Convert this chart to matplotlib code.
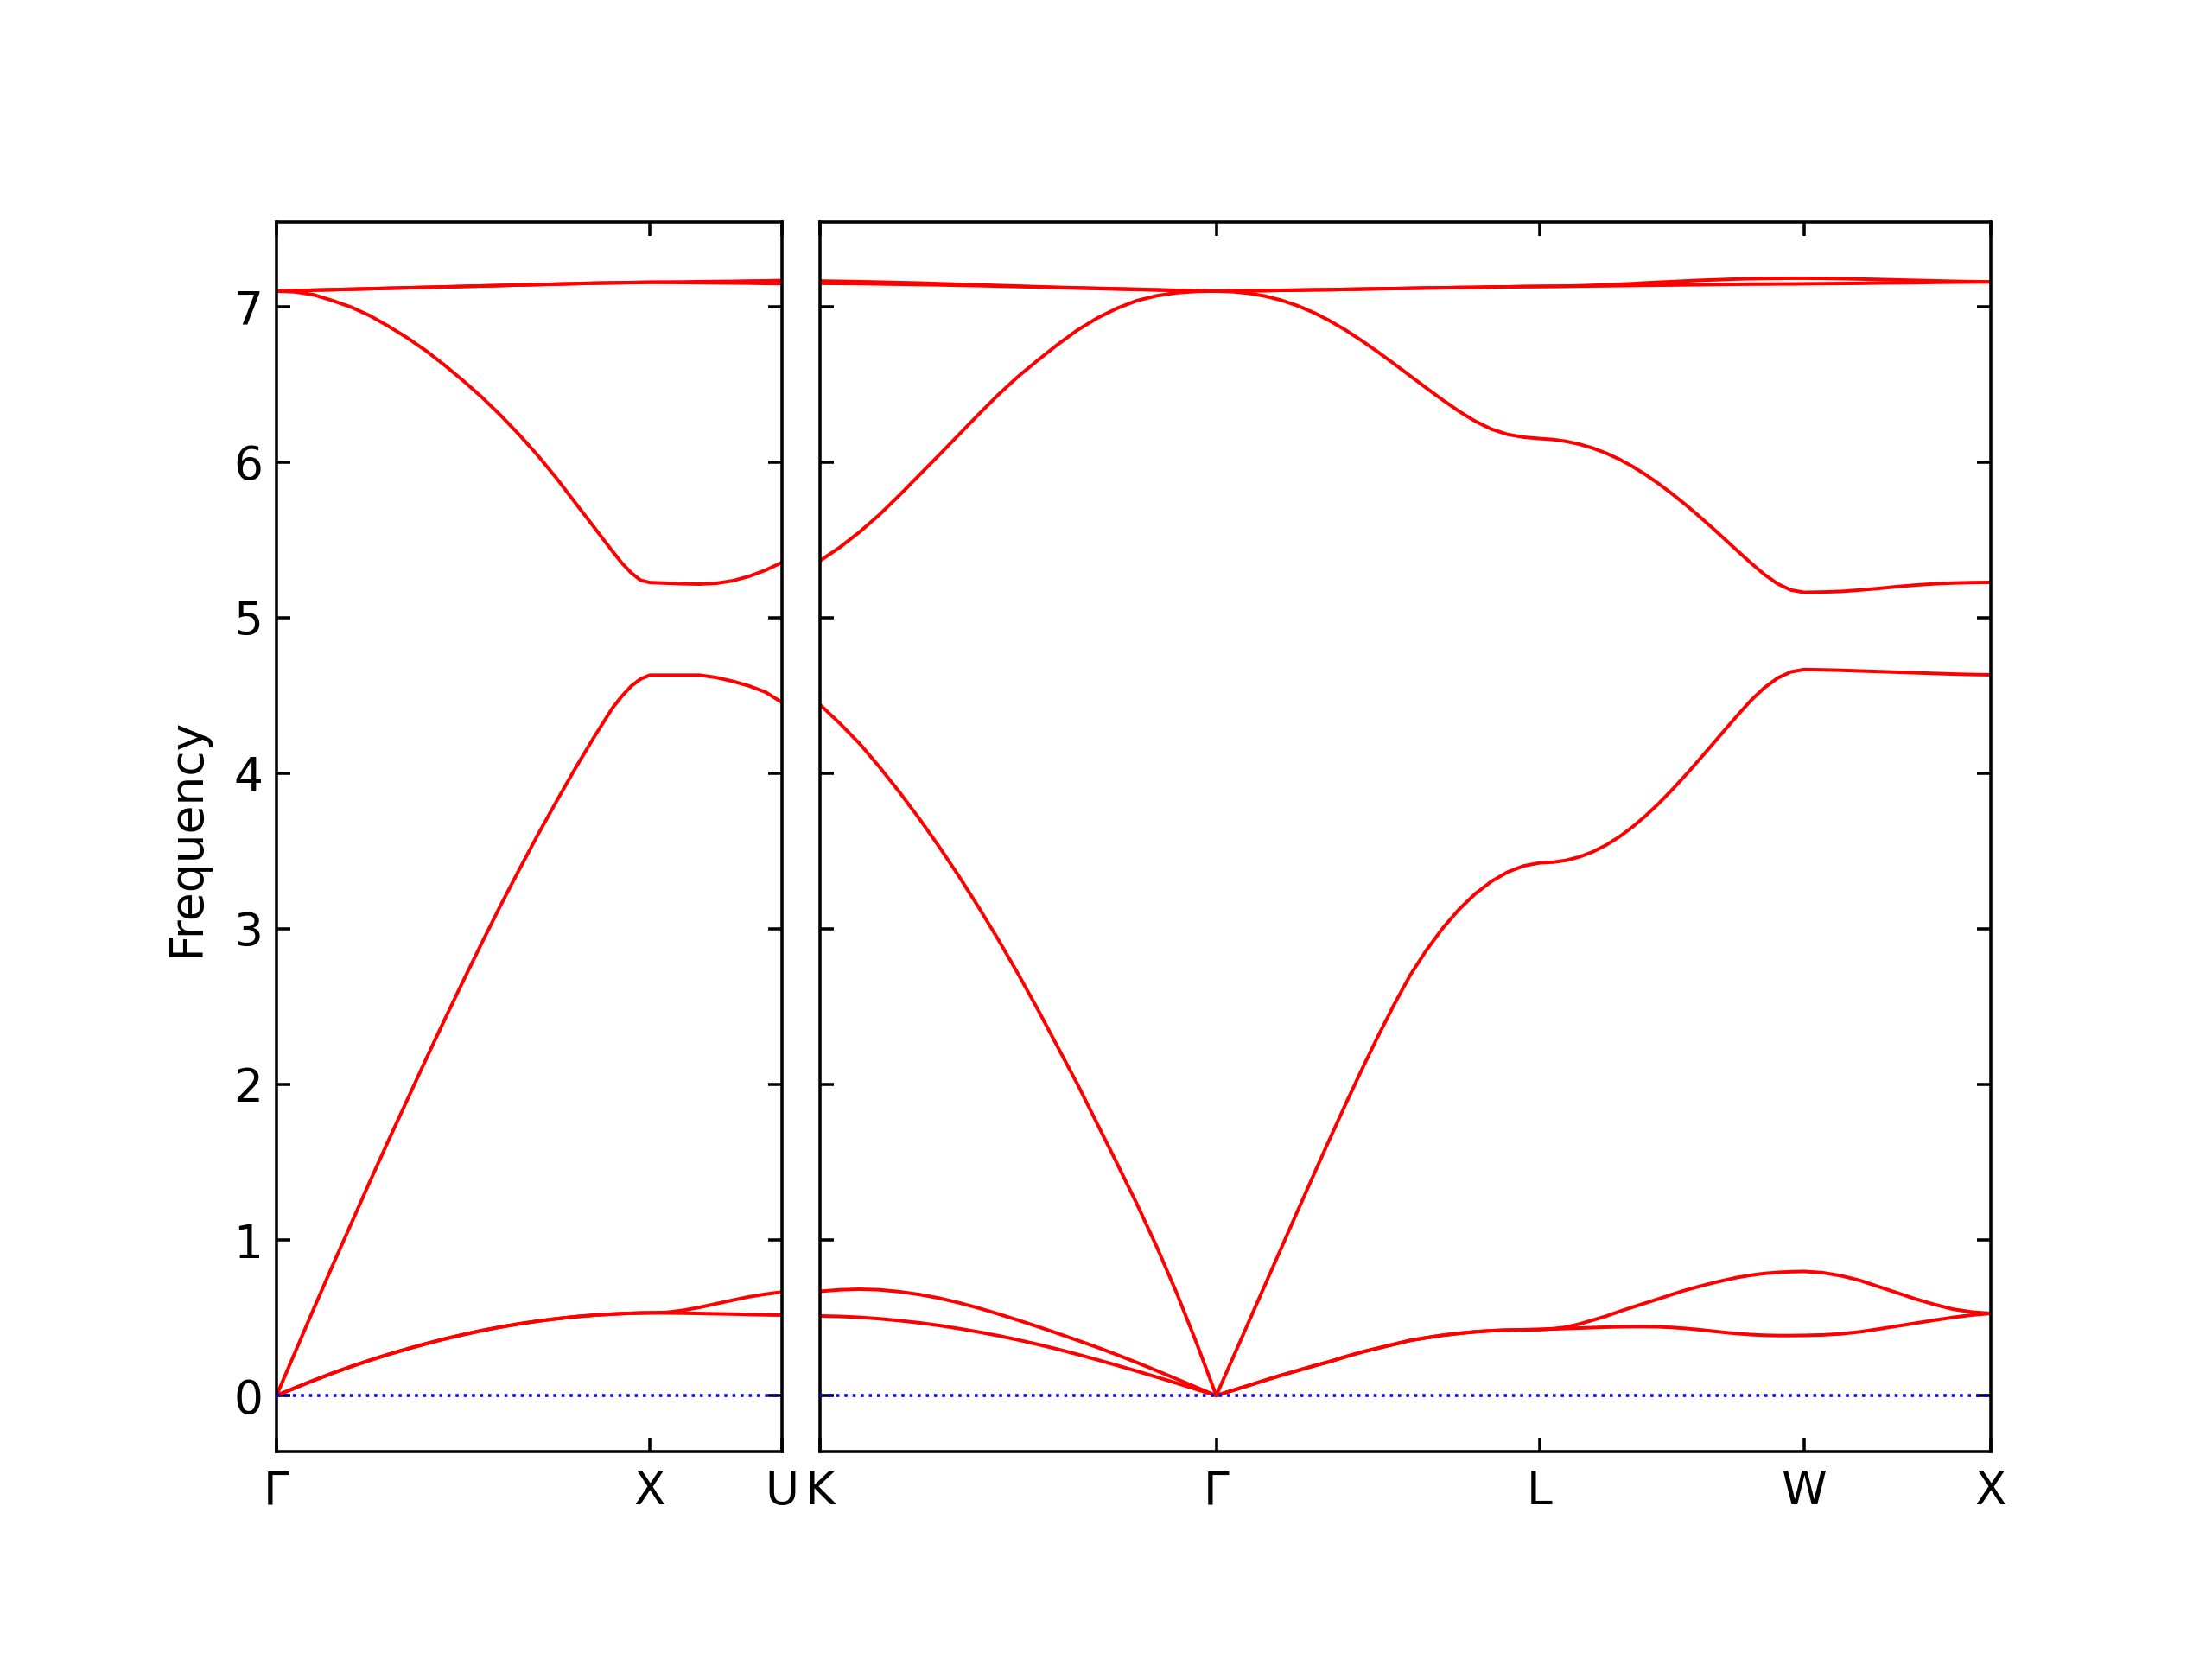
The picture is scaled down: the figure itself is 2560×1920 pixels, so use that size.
"""
Phonon band structure, fcc path Gamma-X-U | K-Gamma-L-W-X
Values read off the reference picture.
"""

import numpy as np
import matplotlib.pyplot as plt

plt.rcParams['font.size'] = 12

# ============================================================================
# DATA  (band order per segment: TA1, TA2, LA, LO, TO1, TO2)
# ============================================================================

# segment lengths along the path (units of 2pi/a)
LEN_GX = 1.0
LEN_XU = 0.35355
LEN_KG = 1.06066
LEN_GL = 0.86603
LEN_LW = 0.70711
LEN_WX = 0.5

labels_left = ['Γ', 'X', 'U']
labels_right = ['K', 'Γ', 'L', 'W', 'X']

# --- Gamma -> X
gx_t = [0, .05, .1, .15, .2, .25, .3, .35, .4, .45, .5, .55, .6, .65, .7,
        .75, .8, .85, .9, .925, .95, .975, 1]
gx_ta = [0, .05, .098, .144, .187, .227, .265, .300, .333, .364, .392, .418,
         .441, .461, .479, .494, .507, .517, .524, .527, .529, .531, .532]
gx_la = [0, .28, .56, .835, 1.105, 1.375, 1.64, 1.90, 2.16, 2.415, 2.665,
         2.91, 3.15, 3.38, 3.605, 3.82, 4.03, 4.23, 4.42, 4.495, 4.56, 4.605,
         4.63]
gx_lo = [7.098, 7.093, 7.074, 7.037, 6.995, 6.94, 6.872, 6.798, 6.715, 6.622,
         6.522, 6.416, 6.30, 6.175, 6.041, 5.895, 5.738, 5.582, 5.425, 5.35,
         5.287, 5.24, 5.225]
gx_to = [7.098, 7.101, 7.104, 7.107, 7.110, 7.113, 7.116, 7.119, 7.122,
         7.125, 7.128, 7.131, 7.134, 7.137, 7.140, 7.143, 7.146, 7.149,
         7.151, 7.152, 7.153, 7.154, 7.155]
gx_bands = [gx_ta, gx_ta, gx_la, gx_lo, gx_to, gx_to]

# --- X -> U
xu_t = [0, .125, .25, .375, .5, .625, .75, .875, 1]
xu_ta1 = [.532, .531, .530, .528, .526, .524, .521, .519, .517]
xu_ta2 = [.532, .535, .548, .567, .590, .613, .635, .652, .666]
xu_la = [4.63, 4.63, 4.63, 4.63, 4.615, 4.591, 4.561, 4.521, 4.455]
xu_lo = [5.225, 5.221, 5.217, 5.215, 5.220, 5.236, 5.265, 5.304, 5.354]
xu_to1 = [7.155, 7.154, 7.153, 7.152, 7.151, 7.150, 7.149, 7.147, 7.146]
xu_to2 = [7.155, 7.156, 7.157, 7.159, 7.160, 7.161, 7.163, 7.164, 7.166]
xu_bands = [xu_ta1, xu_ta2, xu_la, xu_lo, xu_to1, xu_to2]

# --- K -> Gamma
kg_t = [0, .05, .1, .15, .2, .25, .3, .35, .4, .45, .5, .55, .6, .65, .7,
        .75, .8, .85, .9, .95, 1]
kg_ta1 = [.512, .509, .503, .494, .482, .468, .451, .431, .409, .385, .358,
          .329, .298, .265, .230, .194, .157, .119, .080, .040, 0]
kg_ta2 = [.670, .680, .684, .680, .668, .650, .627, .597, .563, .525, .485,
          .443, .400, .355, .310, .262, .212, .160, .107, .053, 0]
kg_la = [4.44, 4.32, 4.19, 4.04, 3.88, 3.71, 3.53, 3.34, 3.14, 2.93, 2.71,
         2.48, 2.24, 2.0, 1.745, 1.49, 1.23, 0.955, 0.66, 0.34, 0]
kg_lo = [5.365, 5.451, 5.55, 5.661, 5.785, 5.914, 6.043, 6.174, 6.305, 6.432,
         6.549, 6.654, 6.755, 6.848, 6.925, 6.988, 7.037, 7.068, 7.087,
         7.096, 7.098]
kg_to1 = [7.148, 7.147, 7.146, 7.144, 7.142, 7.140, 7.138, 7.135, 7.133,
          7.130, 7.127, 7.124, 7.120, 7.117, 7.114, 7.111, 7.108, 7.105,
          7.102, 7.099, 7.098]
kg_to2 = [7.163, 7.161, 7.159, 7.156, 7.153, 7.150, 7.146, 7.142, 7.138,
          7.134, 7.130, 7.126, 7.122, 7.119, 7.116, 7.113, 7.110, 7.106,
          7.103, 7.100, 7.098]
kg_bands = [kg_ta1, kg_ta2, kg_la, kg_lo, kg_to1, kg_to2]

# --- Gamma -> L
gl_t = kg_t
gl_ta = [0, .033, .065, .098, .13, .16, .19, .218, .25, .28, .305, .33, .355,
         .372, .388, .40, .41, .417, .421, .423, .425]
gl_la = [0, .236, .472, .708, .944, 1.18, 1.414, 1.646, 1.874, 2.096, 2.31,
         2.514, 2.704, 2.864, 3.004, 3.124, 3.224, 3.304, 3.364, 3.404, 3.424]
gl_lo = [7.098, 7.094, 7.084, 7.066, 7.04, 7.005, 6.961, 6.908, 6.847, 6.779,
         6.706, 6.63, 6.552, 6.474, 6.398, 6.326, 6.262, 6.211, 6.177, 6.159,
         6.15]
gl_to = [7.098, 7.099, 7.100, 7.101, 7.103, 7.104, 7.106, 7.107, 7.109,
         7.111, 7.113, 7.114, 7.116, 7.118, 7.119, 7.121, 7.122, 7.124,
         7.125, 7.127, 7.128]
gl_bands = [gl_ta, gl_ta, gl_la, gl_lo, gl_to, gl_to]

# --- L -> W
lw_t = kg_t
lw_ta1 = [.425, .428, .431, .434, .437, .440, .442, .443, .443, .442, .438,
          .432, .424, .415, .406, .398, .392, .388, .386, .386, .387]
lw_ta2 = [.425, .430, .440, .460, .485, .510, .540, .568, .595, .622, .650,
          .677, .700, .722, .742, .760, .774, .785, .792, .796, .798]
lw_la = [3.424, 3.428, 3.44, 3.462, 3.494, 3.537, 3.59, 3.653, 3.725, 3.805,
         3.892, 3.984, 4.08, 4.178, 4.277, 4.375, 4.469, 4.549, 4.611, 4.651,
         4.666]
lw_lo = [6.15, 6.144, 6.132, 6.114, 6.089, 6.057, 6.018, 5.972, 5.919, 5.86,
         5.796, 5.728, 5.656, 5.581, 5.504, 5.426, 5.349, 5.277, 5.217, 5.177,
         5.162]
lw_to1 = [7.128, 7.128, 7.129, 7.130, 7.131, 7.132, 7.133, 7.134, 7.135,
          7.136, 7.137, 7.138, 7.139, 7.140, 7.141, 7.142, 7.143, 7.143,
          7.144, 7.144, 7.145]
lw_to2 = [7.128, 7.129, 7.130, 7.132, 7.135, 7.138, 7.142, 7.146, 7.151,
          7.155, 7.159, 7.163, 7.167, 7.170, 7.173, 7.176, 7.178, 7.179,
          7.180, 7.181, 7.181]
lw_bands = [lw_ta1, lw_ta2, lw_la, lw_lo, lw_to1, lw_to2]

# --- W -> X
wx_t = [0, .1, .2, .3, .4, .5, .6, .7, .8, .9, 1]
wx_ta1 = [.387, .390, .397, .410, .428, .447, .466, .485, .503, .518, .528]
wx_ta2 = [.798, .790, .770, .740, .700, .660, .620, .585, .555, .537, .528]
wx_la = [4.666, 4.664, 4.661, 4.657, 4.653, 4.649, 4.645, 4.641, 4.637,
         4.634, 4.632]
wx_lo = [5.162, 5.164, 5.168, 5.177, 5.187, 5.199, 5.209, 5.217, 5.222,
         5.225, 5.226]
wx_to1 = [7.145, 7.146, 7.147, 7.148, 7.150, 7.151, 7.152, 7.154, 7.155,
          7.156, 7.157]
wx_to2 = [7.181, 7.180, 7.178, 7.176, 7.173, 7.170, 7.167, 7.164, 7.161,
          7.159, 7.157]
wx_bands = [wx_ta1, wx_ta2, wx_la, wx_lo, wx_to1, wx_to2]

N_BANDS = 6

# ============================================================================
# PLOT
# ============================================================================

def draw_panel(ax, segments, labels):
    """Draw all bands of a path panel made of consecutive segments"""
    start = 0.0
    ticks = [0.0]
    ks = []
    freqs = [[] for _ in range(N_BANDS)]
    for t, bands, length in segments:
        ks.append(start + np.asarray(t) * length)
        for b in range(N_BANDS):
            freqs[b].append(np.asarray(bands[b]))
        start += length
        ticks.append(start)

    k = np.concatenate(ks)
    for b in range(N_BANDS):
        ax.plot(k, np.concatenate(freqs[b]), color='red', lw=0.9)

    ax.axhline(0, color='blue', ls=':', lw=0.8, zorder=3)
    ax.set_xlim(0, start)
    ax.set_ylim(-0.36, 7.54)
    ax.set_xticks(ticks)
    ax.set_xticklabels(labels)
    ax.tick_params(direction='in', top=True, right=True)
    ax.tick_params(axis='x', pad=4.5)


fig = plt.figure(figsize=(8, 6))
ax1 = fig.add_axes([0.125, 0.125, 0.2285, 0.741])
ax2 = fig.add_axes([0.3707, 0.125, 0.5293, 0.741])

draw_panel(ax1, [(gx_t, gx_bands, LEN_GX), (xu_t, xu_bands, LEN_XU)],
           labels_left)
draw_panel(ax2, [(kg_t, kg_bands, LEN_KG), (gl_t, gl_bands, LEN_GL),
                 (lw_t, lw_bands, LEN_LW), (wx_t, wx_bands, LEN_WX)],
           labels_right)

ax1.set_ylabel('Frequency', labelpad=6.5)
ax2.tick_params(labelleft=False)

fig.savefig('out.png', dpi=320)
